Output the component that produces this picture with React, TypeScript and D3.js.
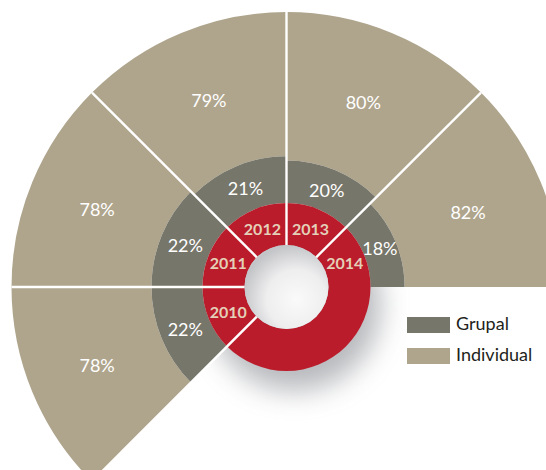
import React from 'react';
import * as d3 from 'd3';

const years = ['2010', '2011', '2012', '2013', '2014'];
const grupal = [22, 22, 21, 20, 18];
const individual = [78, 78, 79, 80, 82];
const legendLabels = ['Grupal', 'Individual'];

const W = 546;
const H = 470;
const cx = 286.5;
const cy = 287;
const rHole = 42;
const rRed = 84;

const colors = {
  grupal: '#77766a',
  individual: '#afa58d',
  red: '#bb1c2b',
  yearText: '#e4cfb8',
};

export default function App() {
  const angle = d3
    .scaleBand<string>()
    .domain(years)
    .range([(-3 * Math.PI) / 4, Math.PI / 2]);
  const rGray = d3.scaleLinear().domain([0, 22]).range([rHole, 135]);
  const rTotal = d3.scaleLinear().domain([0, 100]).range([0, 275]);

  const arc = d3.arc<any>();
  const red = arc({ innerRadius: rHole, outerRadius: rRed, startAngle: 0, endAngle: 2 * Math.PI }) as string;

  const segs = years.map((y, i) => {
    const a0 = angle(y) as number;
    const a1 = a0 + angle.bandwidth();
    const g = { innerRadius: rRed, outerRadius: rGray(grupal[i]), startAngle: a0, endAngle: a1 };
    const t = {
      innerRadius: rGray(grupal[i]),
      outerRadius: rTotal(grupal[i] + individual[i]),
      startAngle: a0,
      endAngle: a1,
    };
    const yr = { innerRadius: rHole, outerRadius: rRed, startAngle: a0, endAngle: a1 };
    return {
      year: y,
      a0,
      gPath: arc(g) as string,
      tPath: arc(t) as string,
      gC: arc.centroid(g),
      tC: arc.centroid(t),
      yC: arc.centroid(yr),
      gv: grupal[i],
      iv: individual[i],
    };
  });

  const rEnd = rTotal(100);
  const font = 'Lato, "Open Sans", sans-serif';

  return (
    <svg
      width={W}
      height={H}
      style={{ position: 'absolute', left: 0, top: 0, background: '#fff' }}
    >
      <defs>
        <filter id="blur" x="-50%" y="-50%" width="200%" height="200%">
          <feGaussianBlur stdDeviation="14" />
        </filter>
        <radialGradient id="hole" cx="62%" cy="65%" r="65%">
          <stop offset="0%" stopColor="#fafafa" />
          <stop offset="55%" stopColor="#eeeeef" />
          <stop offset="100%" stopColor="#c4c5c8" />
        </radialGradient>
      </defs>
      <circle cx={cx + 8} cy={cy + 18} r={86} fill="#6f737a" opacity={0.5} filter="url(#blur)" />
      <g transform={`translate(${cx},${cy})`}>
        {segs.map((s) => (
          <path key={'t' + s.year} d={s.tPath} fill={colors.individual} />
        ))}
        {segs.map((s) => (
          <path key={'g' + s.year} d={s.gPath} fill={colors.grupal} />
        ))}
        <path d={red} fill={colors.red} />
        <circle r={rHole} fill="url(#hole)" />
        {segs.map((s) => (
          <line
            key={'l' + s.year}
            x1={Math.sin(s.a0) * rHole}
            y1={-Math.cos(s.a0) * rHole}
            x2={Math.sin(s.a0) * rEnd}
            y2={-Math.cos(s.a0) * rEnd}
            stroke="#fff"
            strokeWidth={2.4}
          />
        ))}
        {segs.map((s) => (
          <text
            key={'yt' + s.year}
            x={s.yC[0]}
            y={s.yC[1]}
            textAnchor="middle"
            dominantBaseline="central"
            fill={colors.yearText}
            fontFamily={font}
            fontWeight="bold"
            fontSize={16}
          >
            {s.year}
          </text>
        ))}
        {segs.map((s) => (
          <text
            key={'gt' + s.year}
            x={s.gC[0]}
            y={s.gC[1]}
            textAnchor="middle"
            dominantBaseline="central"
            fill="#fff"
            fontFamily={font}
            fontSize={18}
          >
            {s.gv}%
          </text>
        ))}
        {segs.map((s) => (
          <text
            key={'it' + s.year}
            x={s.tC[0]}
            y={s.tC[1]}
            textAnchor="middle"
            dominantBaseline="central"
            fill="#fff"
            fontFamily={font}
            fontSize={18}
          >
            {s.iv}%
          </text>
        ))}
      </g>
      <g>
        {legendLabels.map((l, i) => (
          <g key={l}>
            <rect
              x={407}
              y={317 + i * 31}
              width={43}
              height={16}
              fill={i === 0 ? colors.grupal : colors.individual}
            />
            <text x={456} y={330 + i * 31} fontFamily={font} fontSize={18} fill="#231f20">
              {l}
            </text>
          </g>
        ))}
      </g>
    </svg>
  );
}
